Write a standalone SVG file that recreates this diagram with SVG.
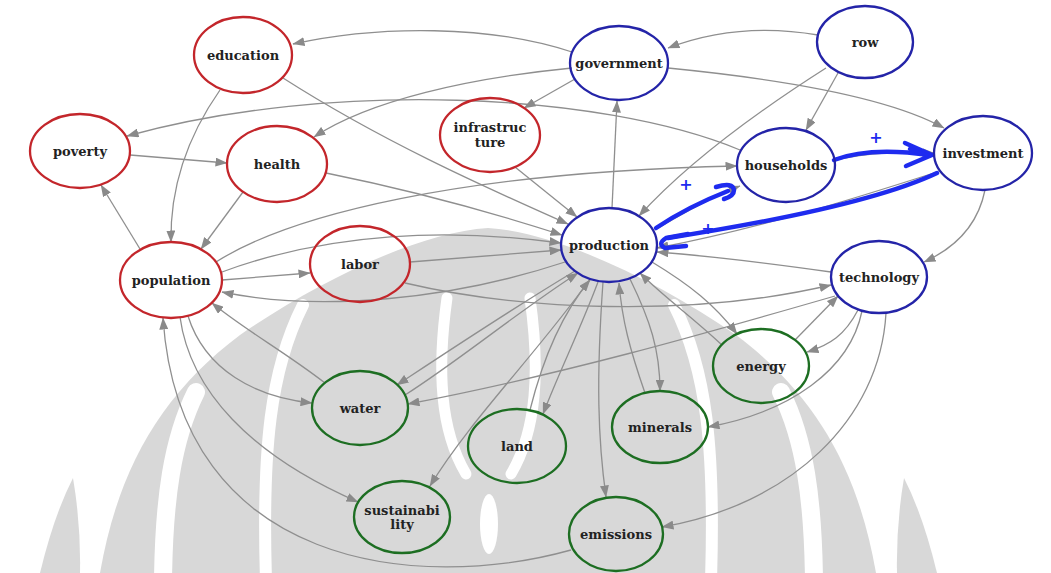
<svg xmlns="http://www.w3.org/2000/svg" width="1051" height="573" viewBox="0 0 1051 573">
  <defs>
    <marker id="arr" markerUnits="userSpaceOnUse" markerWidth="12" markerHeight="9" refX="11.5" refY="4.5" orient="auto">
      <path d="M0,0 L12,4.5 L0,9 Z" fill="#8a8a8a"/>
    </marker>
    <style>
      .edge { fill: none; stroke: #8f8f8f; stroke-width: 1.3; marker-end: url(#arr); }
      .node { fill: none; stroke-width: 2.3; }
      .red { stroke: #c3262b; }
      .blue { stroke: #2424a8; }
      .green { stroke: #1d6e22; }
      .lbl { font-family: "DejaVu Serif", "Liberation Serif", serif; font-weight: bold; font-size: 13px; fill: #222222; text-anchor: middle; }
      .wm { fill: #d8d8d8; }
      .cut { fill: none; stroke: #ffffff; stroke-linecap: round; }
      .hand { fill: none; stroke: #1e2bef; stroke-width: 4.5; stroke-linecap: round; stroke-linejoin: round; }
      .sign { font-family: "DejaVu Sans", sans-serif; font-weight: bold; font-size: 16px; fill: #1e2bef; text-anchor: middle; }
    </style>
  </defs>

  <rect width="1051" height="573" fill="#ffffff"/>

  <!-- background emblem -->
  <g id="emblem">
    <path class="wm" d="M100,573 C118,470 160,395 240,335 C320,280 420,232 488,228 C556,232 656,280 736,335 C816,395 858,470 876,573 Z"/>
    <path class="wm" d="M40,573 Q54,515 73,478 Q81,525 80,573 Z"/>
    <path class="wm" d="M937,573 Q923,515 904,478 Q896,525 897,573 Z"/>
    <path class="cut" stroke-width="18" d="M163,580 C164,500 172,440 196,392"/>
    <path class="cut" stroke-width="18" d="M814,580 C813,500 805,440 781,392"/>
    <path class="cut" stroke-width="12" d="M303,305 C270,370 262,450 266,580"/>
    <path class="cut" stroke-width="12" d="M674,305 C707,370 715,450 711,580"/>
    <path class="cut" stroke-width="11" d="M447,298 C437,370 440,430 466,474"/>
    <path class="cut" stroke-width="11" d="M530,298 C540,370 537,430 511,474"/>
    <ellipse cx="489" cy="524" rx="9" ry="30" fill="#ffffff"/>
  </g>

  <!-- connectors -->
  <g id="connectors">
    <path class="edge" d="M818,35 C760,25 710,32 668,48"/>
    <path class="edge" d="M572,52 C490,25 380,25 293,44"/>
    <path class="edge" d="M838,73 L806,130"/>
    <path class="edge" d="M826,68 C760,110 690,160 639,216"/>
    <path class="edge" d="M668,68 C790,80 890,98 944,128"/>
    <path class="edge" d="M740,150 C600,92 330,80 127,136"/>
    <path class="edge" d="M572,68 C470,78 370,100 314,137"/>
    <path class="edge" d="M283,78 C380,140 480,185 568,224"/>
    <path class="edge" d="M575,79 L524,108"/>
    <path class="edge" d="M612,208 L617,101"/>
    <path class="edge" d="M515,167 L577,217"/>
    <path class="edge" d="M326,173 C420,192 500,215 562,235"/>
    <path class="edge" d="M216,262 C290,215 460,172 737,166"/>
    <path class="edge" d="M222,272 C330,232 450,228 561,243"/>
    <path class="edge" d="M410,262 L561,250"/>
    <path class="edge" d="M222,280 L310,273"/>
    <path class="edge" d="M565,262 C450,300 320,312 222,292"/>
    <path class="edge" d="M405,283 C520,310 690,318 831,285"/>
    <path class="edge" d="M831,272 C760,262 710,256 657,252"/>
    <path class="edge" d="M985,190 C978,225 955,248 924,262"/>
    <path class="edge" d="M835,296 C700,335 560,375 408,404"/>
    <path class="edge" d="M795,340 L838,296"/>
    <path class="edge" d="M858,310 C845,335 830,345 807,352"/>
    <path class="edge" d="M862,311 C850,370 790,412 708,427"/>
    <path class="edge" d="M886,313 C880,420 790,505 662,527"/>
    <path class="edge" d="M220,90 C185,140 170,190 171,242"/>
    <path class="edge" d="M243,192 L201,249"/>
    <path class="edge" d="M140,249 L101,185"/>
    <path class="edge" d="M130,155 L227,163"/>
    <path class="edge" d="M188,316 C205,370 255,397 312,403"/>
    <path class="edge" d="M325,383 C285,352 245,330 212,303"/>
    <path class="edge" d="M180,317 C190,390 250,455 358,502"/>
    <path class="edge" d="M571,550 C420,592 180,570 163,318"/>
    <path class="edge" d="M575,271 C510,310 450,350 397,385"/>
    <path class="edge" d="M405,395 C460,360 520,310 578,273"/>
    <path class="edge" d="M590,279 C540,350 470,420 430,486"/>
    <path class="edge" d="M530,410 C545,350 565,310 590,280"/>
    <path class="edge" d="M598,282 C580,330 560,370 543,414"/>
    <path class="edge" d="M603,282 C596,380 598,440 606,497"/>
    <path class="edge" d="M645,393 C630,350 622,320 619,283"/>
    <path class="edge" d="M630,279 C650,320 660,350 660,391"/>
    <path class="edge" d="M722,345 C690,315 665,298 640,273"/>
    <path class="edge" d="M652,262 C690,285 715,305 737,334"/>
    <path class="edge" d="M655,230 C685,212 710,198 740,186"/>
    <path class="edge" d="M835,160 C870,152 900,152 934,153"/>
    <path class="edge" d="M937,172 C850,200 760,228 657,248"/>
  </g>

  <!-- hand-drawn loop annotations -->
  <g id="annotations">
    <path class="hand" d="M834,160 C860,150 895,150 930,155"/>
    <path class="hand" stroke-width="3.5" d="M905,143 L932,155 L906,166"/>
    <path class="hand" stroke-width="3" d="M910,149 L926,155"/>
    <path class="hand" d="M656,228 C680,212 705,200 728,191"/>
    <path class="hand" stroke-width="4" d="M716,187 Q733,182 734,190 Q734,196 724,199"/>
    <path class="hand" d="M937,173 C880,200 770,222 668,238"/>
    <path class="hand" stroke-width="4" d="M688,234 L666,238 Q657,244 665,248 L686,246"/>
    <text class="sign" x="876" y="143">+</text>
    <text class="sign" x="686" y="190">+</text>
    <text class="sign" x="708" y="234" font-size="13">+</text>
  </g>

  <!-- nodes -->
  <g id="education"><ellipse class="node red" cx="243" cy="55" rx="49" ry="38"/><text class="lbl" x="243" y="60">education</text></g>
  <g id="poverty"><ellipse class="node red" cx="80" cy="151" rx="50" ry="37"/><text class="lbl" x="80" y="156">poverty</text></g>
  <g id="health"><ellipse class="node red" cx="277" cy="164" rx="50" ry="38"/><text class="lbl" x="277" y="169">health</text></g>
  <g id="infrastructure"><ellipse class="node red" cx="490" cy="135" rx="50" ry="37"/><text class="lbl" x="490" y="132">infrastruc</text><text class="lbl" x="490" y="147">ture</text></g>
  <g id="population"><ellipse class="node red" cx="171" cy="280" rx="51" ry="38"/><text class="lbl" x="171" y="285">population</text></g>
  <g id="labor"><ellipse class="node red" cx="360" cy="264" rx="50" ry="38"/><text class="lbl" x="360" y="269">labor</text></g>
  <g id="government"><ellipse class="node blue" cx="619" cy="63" rx="49" ry="37"/><text class="lbl" x="619" y="68">government</text></g>
  <g id="row"><ellipse class="node blue" cx="865" cy="42" rx="48" ry="36"/><text class="lbl" x="865" y="47">row</text></g>
  <g id="households"><ellipse class="node blue" cx="786" cy="165" rx="49" ry="37"/><text class="lbl" x="786" y="170">households</text></g>
  <g id="investment"><ellipse class="node blue" cx="983" cy="153" rx="49" ry="37"/><text class="lbl" x="983" y="158">investment</text></g>
  <g id="production"><ellipse class="node blue" cx="609" cy="245" rx="48" ry="37"/><text class="lbl" x="609" y="250">production</text></g>
  <g id="technology"><ellipse class="node blue" cx="879" cy="277" rx="48" ry="36"/><text class="lbl" x="879" y="282">technology</text></g>
  <g id="energy"><ellipse class="node green" cx="761" cy="366" rx="48" ry="37"/><text class="lbl" x="761" y="371">energy</text></g>
  <g id="water"><ellipse class="node green" cx="360" cy="408" rx="48" ry="37"/><text class="lbl" x="360" y="413">water</text></g>
  <g id="land"><ellipse class="node green" cx="517" cy="446" rx="49" ry="37"/><text class="lbl" x="517" y="451">land</text></g>
  <g id="minerals"><ellipse class="node green" cx="660" cy="427" rx="48" ry="36"/><text class="lbl" x="660" y="432">minerals</text></g>
  <g id="sustainability"><ellipse class="node green" cx="402" cy="517" rx="48" ry="36"/><text class="lbl" x="402" y="515">sustainabi</text><text class="lbl" x="402" y="529">lity</text></g>
  <g id="emissions"><ellipse class="node green" cx="616" cy="534" rx="47" ry="37"/><text class="lbl" x="616" y="539">emissions</text></g>
</svg>
